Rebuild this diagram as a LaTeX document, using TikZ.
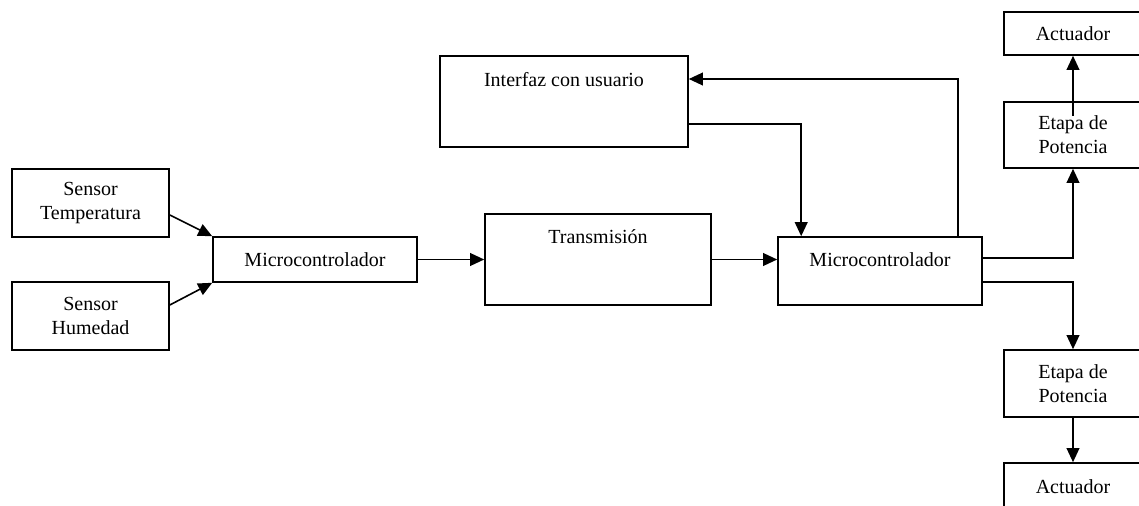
\documentclass[tikz,border=0pt]{standalone}
\usepackage{fontspec}
\setmainfont{Liberation Serif}
\usetikzlibrary{arrows.meta,calc}
\begin{document}
\begin{tikzpicture}[x=0.75pt,y=-0.75pt,
  font=\fontsize{15}{18}\selectfont,
  blk/.style={draw,line width=1.2pt,inner sep=0pt,align=center},
  arr/.style={line width=1.2pt,-{Triangle[length=10.5pt,width=9.5pt]}},
  toplab/.style={label={[anchor=center,yshift=-17.5pt]north:#1}}]
\useasboundingbox (0,0) rectangle (1139,506);
\clip (0,0) rectangle (1139,506);
% nodes
\node[blk,minimum width={157*0.75pt},minimum height={68*0.75pt}] (st) at (90.5,203) {Sensor\\Temperatura};
\node[blk,minimum width={157*0.75pt},minimum height={68*0.75pt}] (sh) at (90.5,316) {Sensor\\Humedad};
\node[blk,minimum width={204*0.75pt},minimum height={45*0.75pt}] (m1) at (315,259.5) {Microcontrolador};
\node[blk,minimum width={226*0.75pt},minimum height={91*0.75pt},toplab={Transmisión}] (tr) at (598,259.5) {};
\node[blk,minimum width={248*0.75pt},minimum height={91*0.75pt},label={[anchor=center,yshift=-18pt]north:Interfaz con usuario}] (ui) at (564,101.5) {};
\node[blk,minimum width={204*0.75pt},minimum height={68*0.75pt},toplab={Microcontrolador}] (m2) at (880,271) {};
\node[blk,minimum width={138*0.75pt},minimum height={43*0.75pt}] (ac1) at (1073,33.5) {Actuador};
\node[blk,minimum width={138*0.75pt},minimum height={66*0.75pt}] (ep1) at (1073,135) {Etapa de\\Potencia};
\node[blk,minimum width={138*0.75pt},minimum height={67*0.75pt}] (ep2) at (1073,383.5) {Etapa de\\Potencia};
\node[blk,minimum width={138*0.75pt},minimum height={48*0.75pt}] (ac2) at (1073,487) {Actuador};
% connectors
\draw[arr] ($(st.east)+(0,12)$) -- (m1.north west);
\draw[arr] ($(sh.east)+(0,-11)$) -- (m1.south west);
\draw[arr] (m1.east) -- (tr.west);
\draw[arr] (tr.east) -- (tr.east -| m2.west);
\draw[arr] ($(ui.east)+(0,22.5)$) -| ($(m2.north west)+(24,0)$);
\draw[arr] ($(m2.north west)+(181,0)$) |- ($(ui.east)+(0,-22.5)$);
\draw[arr] ($(m2.east)+(0,-13)$) -| (ep1.south);
\draw[arr] ($(ep1.center)+(0,-19)$) -- (ac1.south);
\draw[arr] ($(m2.east)+(0,11)$) -| (ep2.north);
\draw[arr] (ep2.south) -- (ac2.north);
\end{tikzpicture}
\end{document}
